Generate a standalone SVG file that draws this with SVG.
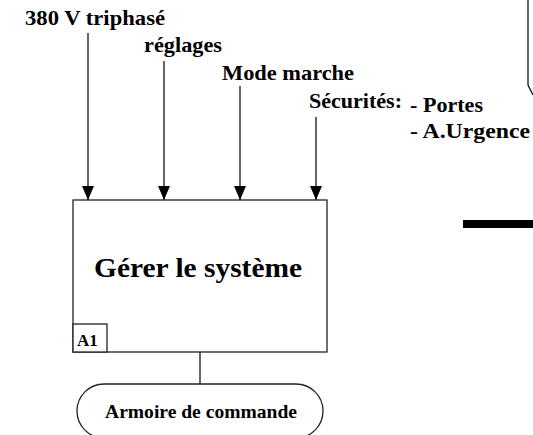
<svg xmlns="http://www.w3.org/2000/svg" width="533" height="435" viewBox="0 0 533 435">
<style>
  .t{font-family:"Liberation Serif","Times New Roman",serif;font-weight:bold;fill:#000}
  .l{font-size:22px}
  .ln{stroke:#000;stroke-width:1.2;fill:none}
  .box{fill:#fff;stroke:#222;stroke-width:1.3}
</style>
<defs>
  <marker id="ah" markerWidth="14" markerHeight="12" refX="14" refY="6" orient="auto" markerUnits="userSpaceOnUse" viewBox="0 0 14 12">
    <path d="M0,0 L14,6 L0,12 Z" fill="#000"/>
  </marker>
</defs>
<rect width="533" height="435" fill="#fff"/>
<g id="decor">
  <path d="M528,0 L528,85 L533,95" class="ln"/>
  <rect x="463" y="220" width="70" height="8" fill="#000"/>
</g>
<g id="connectors">
  <line x1="88" y1="33" x2="88" y2="200" class="ln" marker-end="url(#ah)"/>
  <line x1="164" y1="61" x2="164" y2="200" class="ln" stroke="#555" marker-end="url(#ah)"/>
  <line x1="240" y1="86" x2="240" y2="200" class="ln" marker-end="url(#ah)"/>
  <line x1="316" y1="117" x2="316" y2="200" class="ln" marker-end="url(#ah)"/>
  <line x1="200" y1="352" x2="200" y2="384" class="ln" stroke="#444"/>
</g>
<g id="labels">
  <text class="t l" x="25" y="25" textLength="140" lengthAdjust="spacingAndGlyphs">380 V triphasé</text>
  <text class="t l" x="144" y="52" textLength="78" lengthAdjust="spacingAndGlyphs">réglages</text>
  <text class="t l" x="222" y="80" textLength="132" lengthAdjust="spacingAndGlyphs">Mode marche</text>
  <text class="t l" x="309" y="108" textLength="93" lengthAdjust="spacingAndGlyphs">Sécurités:</text>
  <text class="t l" x="410" y="112" textLength="73" lengthAdjust="spacingAndGlyphs">- Portes</text>
  <text class="t l" x="410" y="138" textLength="120" lengthAdjust="spacingAndGlyphs">- A.Urgence</text>
</g>
<g id="A1">
  <rect x="73" y="200" width="254" height="152" class="box"/>
  <text class="t" x="94" y="277" font-size="28" textLength="208" lengthAdjust="spacingAndGlyphs">Gérer le système</text>
  <rect x="73" y="324" width="34" height="28" class="box"/>
  <text class="t" x="77" y="346" font-size="17">A1</text>
</g>
<g id="armoire">
  <rect x="77" y="384" width="246" height="54" rx="27" ry="27" class="box"/>
  <text class="t" x="105" y="418" font-size="19.5" textLength="192" lengthAdjust="spacingAndGlyphs">Armoire de commande</text>
</g>
</svg>
